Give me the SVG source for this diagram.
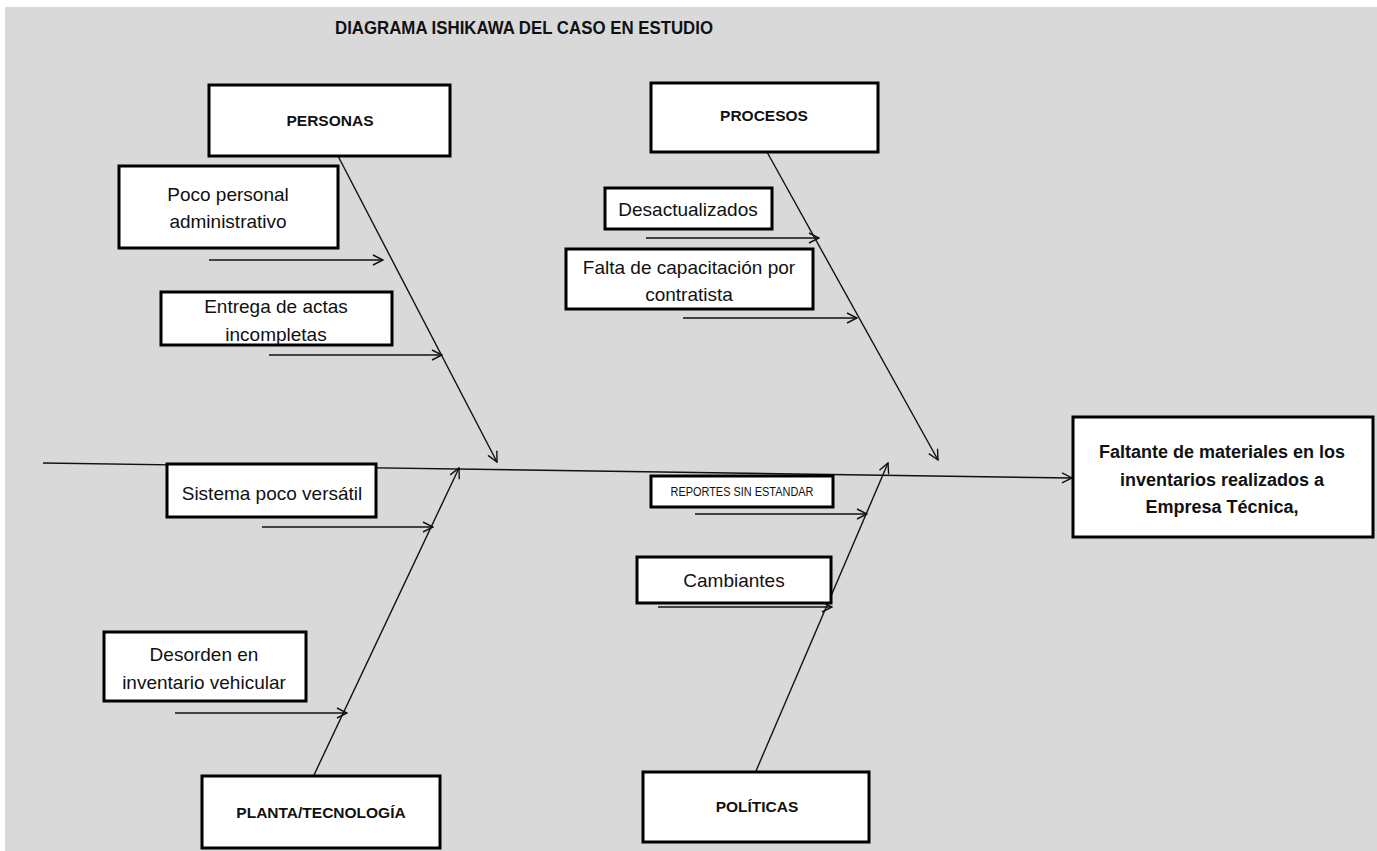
<svg xmlns="http://www.w3.org/2000/svg" width="1377" height="851" viewBox="0 0 1377 851">
<defs>
<style>
.box{fill:#fff;stroke:#000;stroke-width:3}
.t{font-family:"Liberation Sans",Arial,sans-serif;font-size:19px;fill:#111;text-anchor:middle}
.b{font-family:"Liberation Sans",Arial,sans-serif;font-size:15.5px;font-weight:bold;fill:#111;text-anchor:middle}
.e{font-family:"Liberation Sans",Arial,sans-serif;font-size:18px;font-weight:bold;fill:#111;text-anchor:middle}
.ln{stroke:#111;stroke-width:1.4;fill:none;marker-end:url(#ah)}
</style>
<marker id="ah" viewBox="0 0 12 12" refX="11" refY="6" markerWidth="12" markerHeight="12" markerUnits="userSpaceOnUse" orient="auto">
<path d="M1,1 L11,6 L1,11" fill="none" stroke="#111" stroke-width="1.4"/>
</marker>
</defs>
<rect x="0" y="0" width="1377" height="851" fill="#fff"/>
<rect x="5" y="7" width="1372" height="844" fill="#d9d9d9"/>
<text x="524" y="34" font-family="'Liberation Sans',Arial,sans-serif" font-size="19" font-weight="bold" fill="#111" text-anchor="middle" textLength="378" lengthAdjust="spacingAndGlyphs">DIAGRAMA ISHIKAWA DEL CASO EN ESTUDIO</text>
<g id="connectors">
<line class="ln" x1="43" y1="463" x2="1072" y2="478"/>
<line class="ln" x1="338" y1="156" x2="497" y2="462"/>
<line class="ln" x1="767" y1="152" x2="938" y2="460"/>
<line class="ln" x1="314" y1="775" x2="459" y2="468"/>
<line class="ln" x1="756" y1="771" x2="888" y2="463"/>
<line class="ln" x1="209" y1="260" x2="383" y2="260"/>
<line class="ln" x1="269" y1="355" x2="442" y2="355"/>
<line class="ln" x1="646" y1="238" x2="819" y2="238"/>
<line class="ln" x1="683" y1="318" x2="857" y2="318"/>
<line class="ln" x1="262" y1="527" x2="433" y2="527"/>
<line class="ln" x1="175" y1="713" x2="347" y2="713"/>
<line class="ln" x1="695" y1="514" x2="867" y2="514"/>
<line class="ln" x1="658" y1="607" x2="832" y2="607"/>
</g>
<g id="personas">
<rect class="box" x="209" y="85" width="241" height="71"/>
<text class="b" x="330" y="126">PERSONAS</text>
</g>
<g id="procesos">
<rect class="box" x="651" y="83" width="227" height="69"/>
<text class="b" x="764" y="121">PROCESOS</text>
</g>
<g id="planta">
<rect class="box" x="202" y="776" width="238" height="72"/>
<text class="b" x="321" y="818">PLANTA/TECNOLOGÍA</text>
</g>
<g id="politicas">
<rect class="box" x="643" y="772" width="226" height="70"/>
<text class="b" x="757" y="812">POLÍTICAS</text>
</g>
<g id="efecto">
<rect class="box" x="1073" y="417" width="300" height="120"/>
<text class="e" x="1222" y="458">Faltante de materiales en los</text>
<text class="e" x="1222" y="486">inventarios realizados a</text>
<text class="e" x="1222" y="513">Empresa Técnica,</text>
</g>
<g id="poco-personal">
<rect class="box" x="119" y="166" width="219" height="82"/>
<text class="t" x="228" y="201">Poco personal</text>
<text class="t" x="228" y="228">administrativo</text>
</g>
<g id="entrega-actas">
<rect class="box" x="161" y="292" width="231" height="53"/>
<text class="t" x="276" y="313">Entrega de actas</text>
<text class="t" x="276" y="341">incompletas</text>
</g>
<g id="desactualizados">
<rect class="box" x="605" y="188" width="167" height="41"/>
<text class="t" x="688" y="216">Desactualizados</text>
</g>
<g id="falta-capacitacion">
<rect class="box" x="566" y="249" width="247" height="60"/>
<text class="t" x="689" y="274">Falta de capacitación por</text>
<text class="t" x="689" y="301">contratista</text>
</g>
<g id="sistema">
<rect class="box" x="167" y="464" width="209" height="53"/>
<text class="t" x="272" y="500">Sistema poco versátil</text>
</g>
<g id="desorden">
<rect class="box" x="104" y="632" width="202" height="69"/>
<text class="t" x="204" y="661">Desorden en</text>
<text class="t" x="204" y="689">inventario vehicular</text>
</g>
<g id="reportes">
<rect class="box" x="651" y="476" width="182" height="31"/>
<text x="742" y="496" font-family="'Liberation Sans',Arial,sans-serif" font-size="12" fill="#111" text-anchor="middle" textLength="143" lengthAdjust="spacingAndGlyphs">REPORTES SIN ESTANDAR</text>
</g>
<g id="cambiantes">
<rect class="box" x="637" y="557" width="194" height="46"/>
<text class="t" x="734" y="587">Cambiantes</text>
</g>
</svg>
